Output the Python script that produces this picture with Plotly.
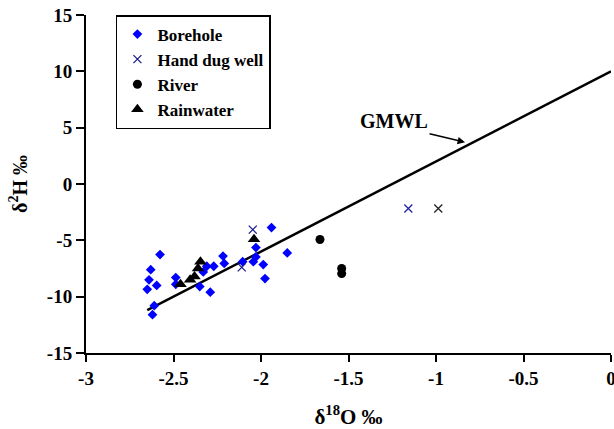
import plotly.graph_objects as go

# ---- data ----
borehole_x = [-2.577, -2.63, -2.64, -2.596, -2.65, -2.61, -2.62, -2.487, -2.487,
              -2.35, -2.29, -2.31, -2.27, -2.217, -2.21, -2.33, -2.105, -2.044,
              -2.029, -2.029, -1.987, -1.977, -1.94, -1.85]
borehole_y = [-6.26, -7.6, -8.5, -9.0, -9.35, -10.8, -11.6, -8.3, -8.9,
              -9.1, -9.6, -7.3, -7.3, -6.4, -7.05, -7.8, -6.9, -6.9,
              -6.47, -5.64, -7.15, -8.39, -3.87, -6.12]

handdug_x = [-2.047, -2.11, -1.158, -0.987]
handdug_y = [-4.05, -7.4, -2.18, -2.18]
handdug_colors = ["#1c1c8c", "#1c1c8c", "#2222a8", "#222222"]

river_x = [-1.663, -1.539, -1.539]
river_y = [-4.93, -7.5, -7.95]

rain_x = [-2.04, -2.346, -2.36, -2.38, -2.405, -2.46]
rain_y = [-4.9, -6.9, -7.5, -8.2, -8.5, -8.9]

gmwl_x = [-2.65, 0.0]
gmwl_y = [-11.2, 10.0]

x_ticks = [-3, -2.5, -2, -1.5, -1, -0.5, 0]
x_ticktext = ["-3", "-2.5", "-2", "-1.5", "-1", "-0.5", "0"]
y_ticks = [-15, -10, -5, 0, 5, 10, 15]
y_ticktext = ["-15", "-10", "-5", "0", "5", "10", "15"]

FONT = "Liberation Serif"


def bold(s):
    return "<b>" + s + "</b>"


fig = go.Figure()

fig.add_trace(go.Scatter(x=gmwl_x, y=gmwl_y, mode="lines",
                         line=dict(color="black", width=2.5),
                         showlegend=False, hoverinfo="skip"))

fig.add_trace(go.Scatter(x=borehole_x, y=borehole_y, mode="markers", name=bold("Borehole"),
                         marker=dict(symbol="diamond", size=7.5, color="#0000ff")))
fig.add_trace(go.Scatter(x=handdug_x, y=handdug_y, mode="markers", name=bold("Hand dug well"),
                         marker=dict(symbol="x-thin-open", size=8, color=handdug_colors,
                                     line=dict(color=handdug_colors, width=1.3))))
fig.add_trace(go.Scatter(x=river_x, y=river_y, mode="markers", name=bold("River"),
                         marker=dict(symbol="circle", size=9, color="black")))
fig.add_trace(go.Scatter(x=rain_x, y=rain_y, mode="markers", name=bold("Rainwater"),
                         marker=dict(symbol="triangle-up", size=11, color="black")))

# GMWL label and arrow
fig.add_annotation(x=-1.24, y=5.57, text=bold("GMWL"), showarrow=False,
                   font=dict(family=FONT, size=20, color="black"))
fig.add_annotation(x=-0.834, y=3.7, ax=-37, ay=-9, text="", showarrow=True,
                   arrowhead=2, arrowsize=1, arrowwidth=1.5, arrowcolor="black")

axis_common = dict(showline=True, linecolor="black", linewidth=2, mirror=False,
                   ticks="outside", tickcolor="black", tickwidth=2,
                   showgrid=False, zeroline=False, ticklabeloverflow="allow",
                   tickfont=dict(family=FONT, size=19, color="black"))

fig.update_xaxes(range=[-3, 0], tickvals=x_ticks, ticktext=[bold(t) for t in x_ticktext],
                 ticklen=7,
                 title=dict(text=bold("δ<sup>18</sup>O ‰"), standoff=22,
                            font=dict(family=FONT, size=21, color="black")),
                 **axis_common)
fig.update_yaxes(range=[-15, 15], tickvals=y_ticks, ticktext=[bold(t) for t in y_ticktext],
                 ticklen=8,
                 title=dict(text=bold("δ<sup>2</sup>H ‰"), standoff=14,
                            font=dict(family=FONT, size=20, color="black")),
                 **axis_common)

fig.update_layout(
    width=614, height=429,
    margin=dict(l=86, r=3, t=15, b=76, autoexpand=False),
    paper_bgcolor="white", plot_bgcolor="white",
    font=dict(family=FONT, color="black"),
    legend=dict(x=0.057, y=1.0, xanchor="left", yanchor="top",
                bordercolor="black", borderwidth=1.5, bgcolor="white",
                itemwidth=30, tracegroupgap=0,
                font=dict(family=FONT, size=17, color="black")),
)

fig.write_html("out.html", config={"displayModeBar": False},
               post_script="document.body.style.margin='0';")
